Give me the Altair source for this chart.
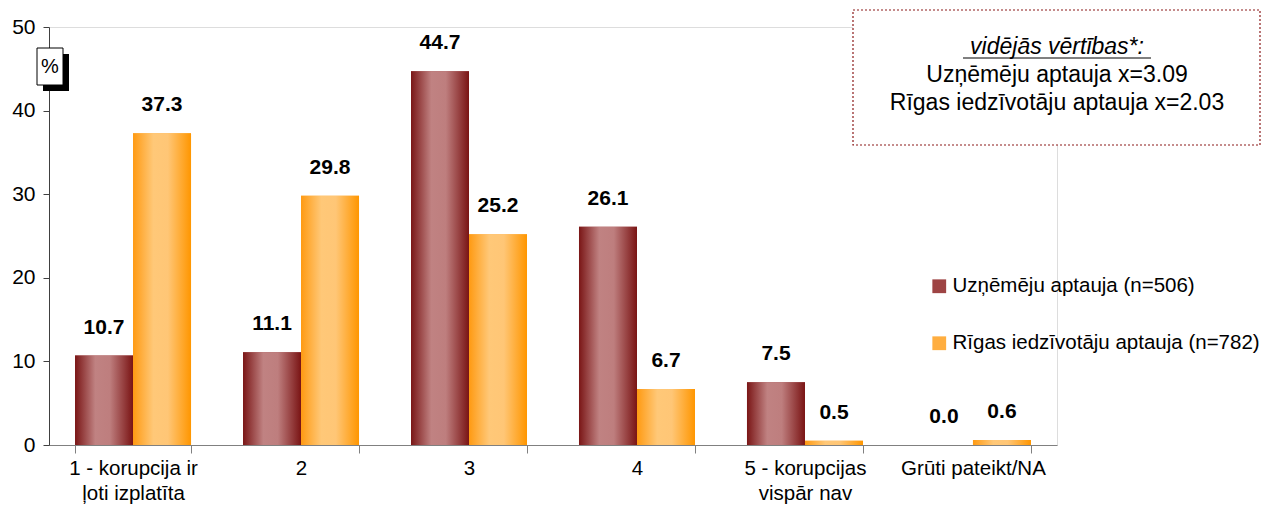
import altair as alt
import pandas as pd

categories = ["1 - korupcija ir\nļoti izplatīta", "2", "3", "4", "5 - korupcijas\nvispār nav", "Grūti pateikt/NA"]
series_names = ["Uzņēmēju aptauja (n=506)", "Rīgas iedzīvotāju aptauja (n=782)"]
uznemeju = [10.7, 11.1, 44.7, 26.1, 7.5, 0.0]
rigas = [37.3, 29.8, 25.2, 6.7, 0.5, 0.6]
y_ticks = [0, 10, 20, 30, 40, 50]
box_title = "vidējās vērtības*:"
box_lines = ["Uzņēmēju aptauja x=3.09", "Rīgas iedzīvotāju aptauja x=2.03"]

rows = []
for c, a, b in zip(categories, uznemeju, rigas):
    rows.append({"cat": c, "series": series_names[0], "value": a})
    rows.append({"cat": c, "series": series_names[1], "value": b})
df = pd.DataFrame(rows)
one = pd.DataFrame({"k": [0]})

FONT = "Liberation Sans"
W, H = 1008, 418

grad_red = {"gradient": "linear", "x1": 0, "x2": 1, "y1": 0, "y2": 0,
            "stops": [{"offset": 0, "color": "#7A1616"},
                      {"offset": 0.35, "color": "#C08282"},
                      {"offset": 0.6, "color": "#BE7E7E"},
                      {"offset": 1, "color": "#7A1414"}]}
grad_orange = {"gradient": "linear", "x1": 0, "x2": 1, "y1": 0, "y2": 0,
               "stops": [{"offset": 0, "color": "#FF9A12"},
                         {"offset": 0.35, "color": "#FFC878"},
                         {"offset": 0.6, "color": "#FFC676"},
                         {"offset": 1, "color": "#FF9600"}]}

x_enc = alt.X("cat:N", sort=categories,
              scale=alt.Scale(paddingInner=0.3095, paddingOuter=0.155),
              axis=alt.Axis(title=None, labelAngle=0, labelExpr="split(datum.label, '\\n')",
                            tickBand="extent", labelFontSize=20.5, labelFont=FONT, labelColor="#000",
                            labelPadding=5, tickSize=8, domainColor="#808080", tickColor="#808080",
                            labelLineHeight=25, labelBaseline="top"))
xo_enc = alt.XOffset("series:N", sort=series_names,
                     scale=alt.Scale(domain=series_names, paddingInner=0, paddingOuter=0))
y_enc = alt.Y("value:Q", scale=alt.Scale(domain=[0, 50], nice=False),
              axis=alt.Axis(title=None, values=y_ticks, grid=False, labelFontSize=21, labelFont=FONT,
                            labelColor="#000", tickSize=6, labelPadding=8, domainColor="#404040",
                            tickColor="#404040"))

legend_bars = alt.Chart(df).mark_bar().encode(
    x=x_enc, xOffset=xo_enc, y=y_enc,
    color=alt.Color("series:N", sort=series_names,
                    scale=alt.Scale(domain=series_names, range=["#9E4444", "#FFAE40"]),
                    legend=alt.Legend(orient="none", legendX=880, legendY=249, title=None,
                                      symbolType="square", symbolSize=190, labelFontSize=20.5,
                                      labelFont=FONT, labelColor="#000", rowPadding=36,
                                      labelOffset=3, symbolStrokeWidth=0, labelLimit=400))
)

bars_a = alt.Chart(df).transform_filter(alt.datum.series == series_names[0]).mark_bar(fill=grad_red).encode(
    x=x_enc, xOffset=xo_enc, y=y_enc)
bars_b = alt.Chart(df).transform_filter(alt.datum.series == series_names[1]).mark_bar(fill=grad_orange).encode(
    x=x_enc, xOffset=xo_enc, y=y_enc)

labels = alt.Chart(df).mark_text(font=FONT, fontSize=21, fontWeight="bold", color="#000",
                                 baseline="alphabetic", dy=-22).encode(
    x=x_enc, xOffset=xo_enc, y=y_enc, text=alt.Text("value:Q", format=".1f"))

# annotation box
box = alt.Chart(one).mark_rect(fill="white", stroke="#8B1A1A", strokeDash=[2, 2], strokeWidth=1.2).encode(
    x=alt.value(804), x2=alt.value(1211), y=alt.value(-17), y2=alt.value(118))
box_t = alt.Chart(one).mark_text(font=FONT, fontSize=23, fontStyle="italic", color="#000").encode(
    x=alt.value(1008), y=alt.value(20), text=alt.value(box_title))
box_u = alt.Chart(one).mark_rule(color="#000", strokeWidth=1).encode(
    x=alt.value(914), x2=alt.value(1102), y=alt.value(31))
box_l1 = alt.Chart(one).mark_text(font=FONT, fontSize=23, color="#000").encode(
    x=alt.value(1008), y=alt.value(48), text=alt.value(box_lines[0]))
box_l2 = alt.Chart(one).mark_text(font=FONT, fontSize=23, color="#000").encode(
    x=alt.value(1008), y=alt.value(76), text=alt.value(box_lines[1]))

# percent unit box
pct_shadow = alt.Chart(one).mark_rect(fill="#000").encode(
    x=alt.value(-6), x2=alt.value(20), y=alt.value(27), y2=alt.value(64))
pct_box = alt.Chart(one).mark_rect(fill="white", stroke="#000", strokeWidth=1).encode(
    x=alt.value(-12), x2=alt.value(14), y=alt.value(21), y2=alt.value(58))
pct_text = alt.Chart(one).mark_text(font=FONT, fontSize=20, color="#000").encode(
    x=alt.value(1), y=alt.value(40), text=alt.value("%"))

chart = alt.layer(legend_bars, bars_a, bars_b, labels, box, box_t, box_u, box_l1, box_l2,
                  pct_shadow, pct_box, pct_text).properties(
    width=W, height=H,
    autosize=alt.AutoSizeParams(type="none"),
    padding={"left": 41, "top": 19, "right": 207, "bottom": 60},
).configure_view(stroke=None).configure(background="white")

chart.save("out.html", embed_options={"renderer": "svg", "actions": False})
